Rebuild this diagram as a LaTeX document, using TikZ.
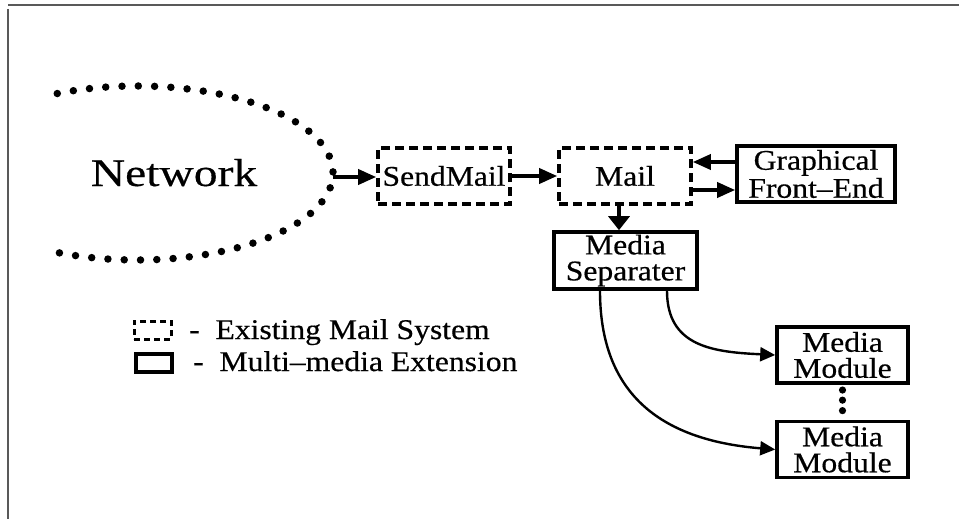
\documentclass[tikz,border=0pt]{standalone}
\usepackage{fontspec}
\setmainfont{Liberation Serif}[FakeStretch=1.11,FakeBold=0.5]
\newfontfamily\netfont{Liberation Serif}[FakeStretch=1.22,FakeBold=0.4]
\usetikzlibrary{arrows.meta,calc}
\begin{document}
\begin{tikzpicture}[x=1pt,y=-1pt,
  lbl/.style={font=\fontsize{28.5}{26}\selectfont, align=center, inner sep=0pt},
  oldbox/.style={lbl, draw, line width=3.6pt, dash pattern=on 9pt off 5pt,
    minimum width=132pt, minimum height=56pt},
  newbox/.style={lbl, draw, line width=3.6pt, minimum height=56pt},
  flowarrow/.style={line width=3.6pt, -{Triangle[length=18pt,width=15pt]}},
  curvearrow/.style={line width=2.4pt, -{Triangle[length=15pt,width=14pt]}},
  framerule/.style={line width=2pt, draw=black!65}]
\useasboundingbox (0,0) rectangle (959,519);

% page frame
\draw[framerule] (8,5.5) -- (959,5.5);
\draw[framerule] (7.5,9) -- (7.5,519);

% network cloud: dotted half ellipse
\coordinate (netC) at (137,173);
\draw[line width=7.5pt, line cap=round, dash pattern=on 0pt off 16.3pt]
  ($(netC)+(114:196pt and 87pt)$)
  arc[start angle=114, end angle=-114, x radius=196pt, y radius=87pt];
\coordinate (netE) at (333,177);
\node[font=\netfont\fontsize{39}{44}\selectfont, anchor=base, inner sep=0pt] (net) at (174,186) {Network};

% boxes
\node[oldbox] (send) at (444,176) {SendMail};
\node[oldbox] (mail) at (625,176) {Mail};
\node[newbox, minimum width=158pt] (gfe) at (816,174) {Graphical\\[2pt]Front--End};
\node[newbox, minimum width=143pt, minimum height=57pt] (sep) at (625.5,260.5) {Media\\Separater};
\node[newbox, minimum width=131pt] (mod1) at (842.5,355) {Media\\Module};
\node[newbox, minimum width=131pt] (mod2) at (842.5,449.5) {Media\\Module};

% straight connectors
\draw[flowarrow] (netE) -- (send.west |- netE);
\draw[flowarrow] (send) -- (mail);
\draw[flowarrow] ([yshift=12pt]gfe.west) -- ([yshift=12pt]gfe.west -| mail.east);
\draw[flowarrow] ([yshift=-16pt]gfe.west -| mail.east) -- ([yshift=-16pt]gfe.west);
\draw[flowarrow, -{Triangle[length=14pt,width=21pt]}]
  ([xshift=-6pt]mail.south) -- ([xshift=-6pt]mail.south |- sep.north);

% curved connectors to the media modules
\draw[curvearrow] ([xshift=41.5pt]sep.south) .. controls +(0,56) and +(-62,-3) .. (mod1.west);
\draw[curvearrow] ([xshift=-25.5pt]sep.south) .. controls +(0,101) and +(-117,-9.5) .. (mod2.west);

% ellipsis between modules
\foreach \t in {0.15,0.44,0.74}
  \fill ($(mod1.south)!\t!(mod2.north)$) circle[radius=3.6pt];

% legend
\node[draw, line width=3pt, dash pattern=on 6pt off 4pt, minimum width=37pt,
  minimum height=18pt, inner sep=0pt] (lgold) at (152.5,330) {};
\node[draw, line width=3.6pt, minimum width=36pt, minimum height=18pt, inner sep=0pt] (lgnew) at (154,363) {};
\node[lbl, anchor=base west] (lgoldtxt) at (189,339) {-\ \ Existing Mail System};
\node[lbl, anchor=base west] (lgnewtxt) at (193,371) {-\ \ Multi--media Extension};
\end{tikzpicture}
\end{document}
